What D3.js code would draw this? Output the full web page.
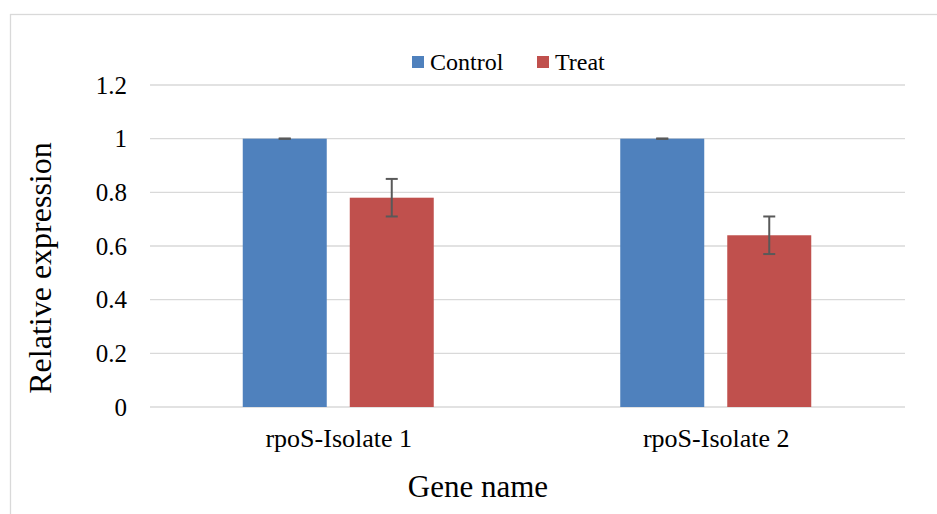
<!DOCTYPE html>
<html><head><meta charset="utf-8">
<script src="https://cdn.jsdelivr.net/npm/d3@7"></script>
<style>body{margin:0;background:#fff}svg{display:block}svg text{font-family:"Liberation Serif","Times New Roman",Tinos,"DejaVu Serif",serif !important;fill:#000}</style>
</head><body><svg id="c" width="937" height="514"></svg>
<script>
const categories = ["rpoS-Isolate 1", "rpoS-Isolate 2"];
const seriesNames = ["Control", "Treat"];
const controlValues = [1, 1];
const treatValues = [0.78, 0.64];
const controlErrors = [0, 0];
const treatErrors = [0.07, 0.07];
const yTicks = [0, 0.2, 0.4, 0.6, 0.8, 1, 1.2];
const colors = ["#4F81BD", "#C0504D"];

const FONT = '"Liberation Serif","Times New Roman",Tinos,"DejaVu Serif",serif';
const svg = d3.select("#c");
svg.append("rect").attr("x",10.5).attr("y",14.5).attr("width",940).attr("height",520)
  .attr("fill","none").attr("stroke","#D9D9D9").attr("stroke-width",1.3);

const m = {l:150, r:905, t:85, b:407};
const x0 = d3.scaleBand().domain(categories).range([m.l, m.r]);
const x1 = d3.scaleBand().domain(seriesNames).range([0, 191]).paddingInner(0.215);
const y = d3.scaleLinear().domain([0, 1.2]).range([m.b, m.t]);

// gridlines
svg.append("g").selectAll("line").data(yTicks).join("line")
  .attr("x1", m.l).attr("x2", m.r).attr("y1", d=>y(d)).attr("y2", d=>y(d))
  .attr("stroke","#D9D9D9").attr("stroke-width",1.3);

// y axis labels
const yAxis = d3.axisLeft(y).tickValues(yTicks).tickSize(0).tickPadding(0).tickFormat(d=>String(d));
const ya = svg.append("g").attr("transform",`translate(127,0)`).call(yAxis).attr("font-family",FONT);
ya.select(".domain").remove();
ya.selectAll("text").attr("font-size",25).attr("fill","#000").attr("dy","0.32em");

const data = categories.map((c,i)=>({cat:c, vals:[
  {s:seriesNames[0], v:controlValues[i], e:controlErrors[i]},
  {s:seriesNames[1], v:treatValues[i], e:treatErrors[i]}]}));

const off = (x0.bandwidth()-191)/2 - 0.5;
const g = svg.append("g").selectAll("g").data(data).join("g")
  .attr("transform", d=>`translate(${x0(d.cat)+off},0)`);
g.selectAll("rect").data(d=>d.vals).join("rect")
  .attr("x", d=>x1(d.s)).attr("width", x1.bandwidth())
  .attr("y", d=>y(d.v)).attr("height", d=>y(0)-y(d.v))
  .attr("fill", (d,i)=>colors[i]);

// error bars
const eb = g.selectAll("g.eb").data(d=>d.vals).join("g").attr("class","eb");
eb.append("line").attr("x1", d=>x1(d.s)+x1.bandwidth()/2).attr("x2", d=>x1(d.s)+x1.bandwidth()/2)
  .attr("y1", d=>y(d.v+d.e)).attr("y2", d=>y(d.v-d.e)).attr("stroke","#595959").attr("stroke-width",2);
eb.selectAll("line.cap").data(d=>[{s:d.s,yv:d.v+d.e},{s:d.s,yv:d.v-d.e}]).join("line").attr("class","cap")
  .attr("x1", d=>x1(d.s)+x1.bandwidth()/2-6).attr("x2", d=>x1(d.s)+x1.bandwidth()/2+6)
  .attr("y1", d=>y(d.yv)).attr("y2", d=>y(d.yv)).attr("stroke","#595959").attr("stroke-width",2);

// x axis labels
const xAxis = d3.axisBottom(x0).tickSize(0).tickPadding(0);
const xa = svg.append("g").attr("transform",`translate(0,${m.b})`).call(xAxis).attr("font-family",FONT);
xa.select(".domain").remove();
xa.selectAll("text").attr("font-size",26).attr("fill","#000").attr("dy",null).attr("y",40);

// axis titles
svg.append("text").attr("transform","translate(51,268) rotate(-90)").attr("text-anchor","middle")
  .attr("font-size",32).text("Relative expression");
svg.append("text").attr("x",478).attr("y",497).attr("text-anchor","middle").attr("font-size",31).text("Gene name");

// legend
const legX = [412, 537];
const lg = svg.append("g").selectAll("g").data(seriesNames).join("g")
  .attr("transform",(d,i)=>`translate(${legX[i]},0)`);
lg.append("rect").attr("x",0).attr("y",56).attr("width",12).attr("height",12).attr("fill",(d,i)=>colors[i]);
lg.append("text").attr("x",18).attr("y",70).attr("font-size",24).text(d=>d);
</script></body></html>
